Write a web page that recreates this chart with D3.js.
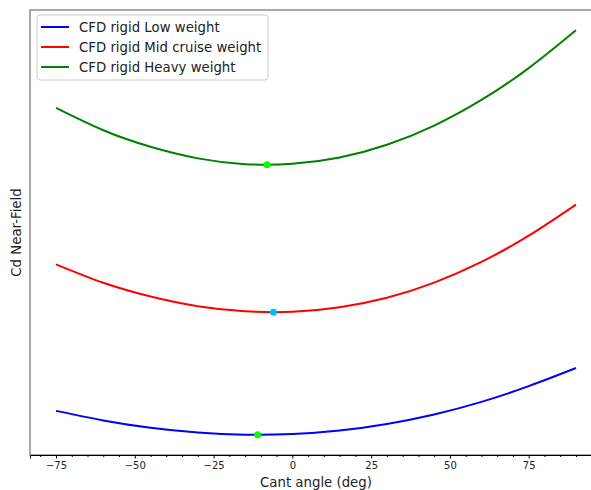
<!DOCTYPE html>
<html>
<head>
<meta charset="utf-8">
<script src="https://cdn.jsdelivr.net/npm/d3@7"></script>
<style>
  body { margin: 0; background: #fff; }
  text { font-family: "DejaVu Sans", sans-serif; }
</style>
</head>
<body>
<svg id="chart" width="591" height="490"></svg>
<script>
// cant angle samples (deg)
var angles = [-75, -60, -45, -30, -15, 0, 15, 30, 45, 60, 75, 90];

// Cd values (no y ticks, so units are relative)
var cdLow   = [0.03240, 0.03144, 0.03070, 0.03022, 0.03001, 0.03008, 0.03043, 0.03109, 0.03204, 0.03330, 0.03488, 0.03670];
var cdMid   = [0.04710, 0.04525, 0.04387, 0.04290, 0.04239, 0.04234, 0.04280, 0.04375, 0.04527, 0.04735, 0.04998, 0.05310];
var cdHeavy = [0.06280, 0.06056, 0.05890, 0.05774, 0.05716, 0.05719, 0.05782, 0.05910, 0.06103, 0.06360, 0.06680, 0.07060];

// minimum points
var minAngles = [-11, -6, -8];
var minCd = [0.03000, 0.04230, 0.05710];

var seriesNames = ["CFD rigid Low weight", "CFD rigid Mid cruise weight", "CFD rigid Heavy weight"];
var seriesColors = ["#0000ff", "#ff0000", "#008000"];
var minColors = ["#00ff00", "#00bfff", "#00ff00"];
var xTicks = [-75, -50, -25, 0, 25, 50, 75];

var margin = {top: 10, right: -11, bottom: 35, left: 30};
var width = 591, height = 490;
var w = width - margin.left - margin.right;
var h = height - margin.top - margin.bottom;

var svg = d3.select("#chart");
var chart = svg.append("g")
    .attr("transform", "translate(" + margin.left + "," + margin.top + ")");

var series = [cdLow, cdMid, cdHeavy];

// matplotlib style 5% padding
var xPad = (90 - (-75)) * 0.05;
var x = d3.scaleLinear()
    .domain([-75 - xPad, 90 + xPad])
    .range([0, w]);

var allCd = [].concat(cdLow, cdMid, cdHeavy, minCd);
var yMin = d3.min(allCd), yMax = d3.max(allCd);
var yPad = (yMax - yMin) * 0.05;
var y = d3.scaleLinear()
    .domain([yMin - yPad, yMax + yPad])
    .range([h, 0]);

// frame
chart.append("rect")
    .attr("x", 0).attr("y", 0)
    .attr("width", w).attr("height", h)
    .style("fill", "none")
    .style("stroke", "#555")
    .style("stroke-width", 1);

// minor ticks
var minorTicks = d3.range(-80, 100, 5).filter(function(d) { return xTicks.indexOf(d) < 0; });
chart.append("g")
    .attr("transform", "translate(0," + h + ")")
    .call(d3.axisBottom(x).tickValues(minorTicks).tickSize(2).tickFormat(""))
    .call(function(g) { g.select(".domain").remove(); });

var xAxis = d3.axisBottom(x)
    .tickValues(xTicks)
    .tickSize(3.5)
    .tickPadding(3)
    .tickFormat(function(d) { return d < 0 ? "\u2212" + Math.abs(d) : d; });

chart.append("g")
    .attr("class", "axis")
    .attr("transform", "translate(0," + h + ")")
    .call(xAxis)
    .call(function(g) {
      g.select(".domain").attr("stroke", "#000");
      g.selectAll("text").style("font-size", "10px").style("fill", "#222");
    });

// axis labels
svg.append("text")
    .attr("x", margin.left + w / 2)
    .attr("y", 487)
    .style("text-anchor", "middle")
    .style("font-size", "13.3px")
    .style("fill", "#222")
    .text("Cant angle (deg)");

svg.append("text")
    .attr("transform", "translate(21," + (margin.top + h / 2) + ") rotate(-90)")
    .style("text-anchor", "middle")
    .style("font-size", "13.3px")
    .style("fill", "#222")
    .text("Cd Near-Field");

// lines
var line = d3.line()
    .x(function(d, i) { return x(angles[i]); })
    .y(function(d) { return y(d); })
    .curve(d3.curveNatural);

chart.selectAll(".series")
    .data(series)
    .enter().append("path")
    .attr("class", "series")
    .attr("d", line)
    .style("fill", "none")
    .style("stroke", function(d, i) { return seriesColors[i]; })
    .style("stroke-width", 2);

// minimum markers
chart.selectAll(".minpt")
    .data(minCd)
    .enter().append("circle")
    .attr("class", "minpt")
    .attr("cx", function(d, i) { return x(minAngles[i]); })
    .attr("cy", function(d) { return y(d); })
    .attr("r", 3.5)
    .style("fill", function(d, i) { return minColors[i]; });

// legend
var legend = svg.append("g").attr("transform", "translate(37,15)");
legend.append("rect")
    .attr("width", 231).attr("height", 65)
    .attr("rx", 3)
    .style("fill", "#fff")
    .style("fill-opacity", 0.8)
    .style("stroke", "#ccc");

var item = legend.selectAll(".item")
    .data(seriesNames)
    .enter().append("g")
    .attr("class", "item")
    .attr("transform", function(d, i) { return "translate(0," + (12 + i * 20) + ")"; });

item.append("line")
    .attr("x1", 4).attr("x2", 32)
    .style("stroke", function(d, i) { return seriesColors[i]; })
    .style("stroke-width", 2);

item.append("text")
    .attr("x", 42).attr("y", 4.5)
    .style("font-size", "13.3px")
    .style("fill", "#222")
    .text(function(d) { return d; });
</script>
</body>
</html>
